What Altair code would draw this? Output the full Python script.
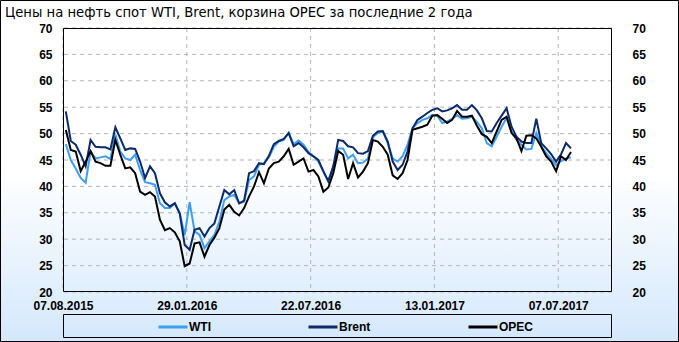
import altair as alt
import pandas as pd

title_text = "Цены на нефть спот WTI, Brent, корзина OPEC за последние 2 года"
series_names = ["WTI", "Brent", "OPEC"]
series_colors = ["#3d9ef2", "#0b2a6a", "#000000"]
first_date = "2015-08-11"  # weekly observations

wti = [48.0, 45.0, 43.4, 41.6, 40.7, 46.6, 45.3, 45.5, 45.7, 45.2,
       49.8, 46.6, 45.3, 45.0, 46.0, 43.1, 40.8, 40.6, 40.3, 36.8,
       35.9, 35.9, 36.8, 34.9, 30.8, 37.0, 31.5, 30.8, 28.3, 29.6,
       30.8, 33.3, 37.4, 38.1, 38.4, 36.8, 37.1, 41.2, 41.9, 44.1,
       44.4, 45.5, 47.5, 48.5, 48.8, 50.2, 48.0, 48.7, 47.9, 46.5,
       45.7, 44.7, 42.8, 40.9, 43.8, 47.2, 47.2, 45.3, 46.0, 44.4,
       44.5, 45.3, 49.3, 50.1, 50.4, 48.2, 45.3, 44.7, 45.7, 47.9,
       51.0, 52.0, 52.6, 52.9, 53.5, 53.4, 52.0, 52.3, 52.8, 53.5,
       52.8, 52.9, 53.2, 52.2, 51.0, 48.2, 47.6, 49.4, 51.3, 53.0,
       50.4, 48.8, 47.9, 47.0, 47.1, 50.1, 47.6, 46.3, 45.2, 44.0,
       44.8, 45.3, 45.5]

brent = [54.2, 48.6, 47.9, 46.0, 43.8, 48.8, 47.5, 47.4, 47.4, 47.0,
         51.2, 49.1, 46.9, 47.2, 47.1, 44.7, 41.6, 43.8, 42.5, 38.7,
         37.0, 36.2, 36.8, 34.9, 28.9, 28.0, 31.8, 32.1, 30.5, 32.1,
         33.0, 36.2, 39.3, 38.5, 39.3, 36.8, 37.3, 42.5, 42.9, 44.4,
         44.2, 45.8, 48.0, 48.6, 49.0, 50.1, 47.6, 48.2, 47.4, 46.3,
         45.7, 45.0, 42.9, 41.0, 43.8, 48.8, 48.6, 47.6, 47.4, 46.3,
         46.2, 46.7, 49.6, 50.4, 50.5, 48.5, 44.7, 43.1, 44.1, 46.6,
         51.0, 52.6, 53.2, 53.9, 54.5, 54.8, 54.2, 54.4, 54.8, 55.4,
         54.5, 54.5, 55.4, 54.4, 52.9, 50.5, 50.4, 52.0, 53.4, 54.8,
         51.3, 49.4, 48.5, 48.2, 48.2, 52.8, 48.2, 47.2, 46.1, 44.7,
         46.1, 48.2, 47.2]

opec = [50.7, 46.9, 46.6, 42.9, 44.7, 46.7, 44.7, 44.4, 43.9, 43.9,
        48.8, 46.0, 43.4, 43.6, 42.5, 39.0, 38.4, 38.9, 38.1, 33.7,
        31.7, 32.1, 31.3, 29.6, 24.9, 25.4, 29.2, 29.4, 26.7, 28.9,
        30.3, 32.1, 35.6, 36.5, 35.2, 34.5, 35.9, 38.1, 40.0, 42.7,
        40.6, 43.4, 44.4, 44.7, 45.7, 47.1, 44.1, 44.7, 45.3, 42.8,
        43.1, 41.9, 39.0, 39.8, 42.5, 46.7, 46.0, 41.4, 44.4, 41.7,
        42.8, 44.4, 48.8, 48.5, 47.5, 46.0, 42.1, 41.4, 42.5, 45.0,
        50.7, 51.0, 51.3, 51.7, 53.4, 53.5, 52.8, 52.0, 52.6, 54.3,
        53.2, 53.2, 53.4, 51.5, 49.9, 49.4, 48.2, 50.4, 52.6, 53.2,
        50.1, 49.1, 46.7, 49.6, 49.7, 49.1, 47.5, 45.7, 44.7, 42.9,
        45.7, 45.0, 46.5]

x_tick_dates = ["2015-08-07", "2016-01-29", "2016-07-22", "2017-01-13", "2017-07-07"]
x_domain = ["2015-08-07", "2017-09-21"]
y_ticks = [20, 25, 30, 35, 40, 45, 50, 55, 60, 65, 70]

W, H = 549, 264
FONT = "Liberation Sans"

dates = list(pd.date_range(first_date, periods=len(wti), freq="7D").strftime("%Y-%m-%d"))
df = pd.DataFrame({
    "date": dates * 3,
    "series": ["WTI"] * len(wti) + ["Brent"] * len(brent) + ["OPEC"] * len(opec),
    "value": wti + brent + opec,
    "order": [0] * len(wti) + [1] * len(brent) + [2] * len(opec),
})


def dt(s):
    y, m, d = map(int, s.split("-"))
    return alt.DateTime(year=y, month=m, date=d, utc=True)


xscale = alt.Scale(type="utc", domain=[dt(s) for s in x_domain], nice=False)
yscale = alt.Scale(domain=[20, 70], nice=False, zero=False)

x_axis = alt.Axis(values=[dt(s) for s in x_tick_dates],
                  labelExpr="utcFormat(datum.value, '%d.%m.%Y')",
                  title=None, grid=False, ticks=False,
                  tickSize=0, domain=False, labelPadding=8, zindex=1,
                  labelFont=FONT, labelFontSize=12, labelFontWeight="bold",
                  labelColor="black", labelFlush=False, labelOverlap=False)

one = pd.DataFrame({"a": [0]})

background = alt.Chart(one).mark_rect(
    fill=alt.Gradient(
        gradient="linear",
        stops=[alt.GradientStop(color="#ffffff", offset=0),
               alt.GradientStop(color="#ffffff", offset=0.5),
               alt.GradientStop(color="#d4e8fc", offset=1)],
        x1=0, x2=0, y1=0, y2=1),
    stroke="black", strokeWidth=1,
).encode(x=alt.value(-62.5), x2=alt.value(615.5), y=alt.value(-27.5), y2=alt.value(313.5))

hgrid = alt.Chart(pd.DataFrame({"v": y_ticks})).mark_rule(
    color="#b4b4b4", strokeDash=[4, 4], strokeWidth=1
).encode(y=alt.Y("v:Q", scale=yscale, axis=None))

vgrid = alt.Chart(pd.DataFrame({"date": x_tick_dates})).mark_rule(
    color="#b4b4b4", strokeDash=[4, 4], strokeWidth=1
).encode(x=alt.X("date:T", scale=xscale, axis=x_axis))

lines = alt.Chart(df).mark_line(strokeWidth=2).encode(
    x=alt.X("date:T", scale=xscale, axis=x_axis),
    y=alt.Y("value:Q", scale=yscale,
            axis=alt.Axis(values=y_ticks, orient="left", title=None, grid=False,
                          ticks=False, tickSize=0, domain=False, labelPadding=11,
                          zindex=1, labelFont=FONT, labelFontSize=12,
                          labelFontWeight="bold", labelColor="black")),
    color=alt.Color("series:N",
                    scale=alt.Scale(domain=series_names, range=series_colors),
                    legend=alt.Legend(orient="none", legendX=94, legendY=283,
                                      direction="horizontal", title=None,
                                      symbolType="stroke", symbolSize=841,
                                      symbolStrokeWidth=3, labelFont=FONT,
                                      labelFontSize=12, labelFontWeight="bold",
                                      labelColor="black", labelOffset=0,
                                      columnPadding=91, padding=0)),
    order=alt.Order("order:Q"),
    detail="series:N",
)

right_axis = alt.Chart(df).mark_line(opacity=0).encode(
    x=alt.X("date:T", scale=xscale, axis=x_axis),
    y=alt.Y("value:Q", scale=yscale,
            axis=alt.Axis(values=y_ticks, orient="right", title=None, grid=False,
                          ticks=False, tickSize=0, domain=False, labelPadding=20,
                          zindex=1, labelFont=FONT, labelFontSize=12,
                          labelFontWeight="bold", labelColor="black")),
    detail="series:N",
)

border = alt.Chart(one).mark_rect(fill="transparent", stroke="black", strokeWidth=1).encode(
    x=alt.value(0.5), x2=alt.value(W - 0.5), y=alt.value(0.5), y2=alt.value(H - 0.5))

legend_box = alt.Chart(one).mark_rect(fill="transparent", stroke="black", strokeWidth=1).encode(
    x=alt.value(0.5), x2=alt.value(W - 0.5), y=alt.value(286.5), y2=alt.value(309.5))

title = alt.Chart(pd.DataFrame({"t": [title_text]})).mark_text(
    align="left", baseline="middle", font="DejaVu Sans", fontSize=13.2, color="black"
).encode(text="t:N", x=alt.value(-58), y=alt.value(-15))

chart = alt.layer(
    background, hgrid, vgrid, lines, right_axis, border, legend_box, title
).resolve_scale(y="independent").properties(
    width=W, height=H,
    autosize=alt.AutoSizeParams(type="none"),
    padding={"left": 63, "top": 28, "right": 67, "bottom": 50},
).configure_view(stroke=None, fill=None)

chart.save("out.html", embed_options={"renderer": "svg", "actions": False})
